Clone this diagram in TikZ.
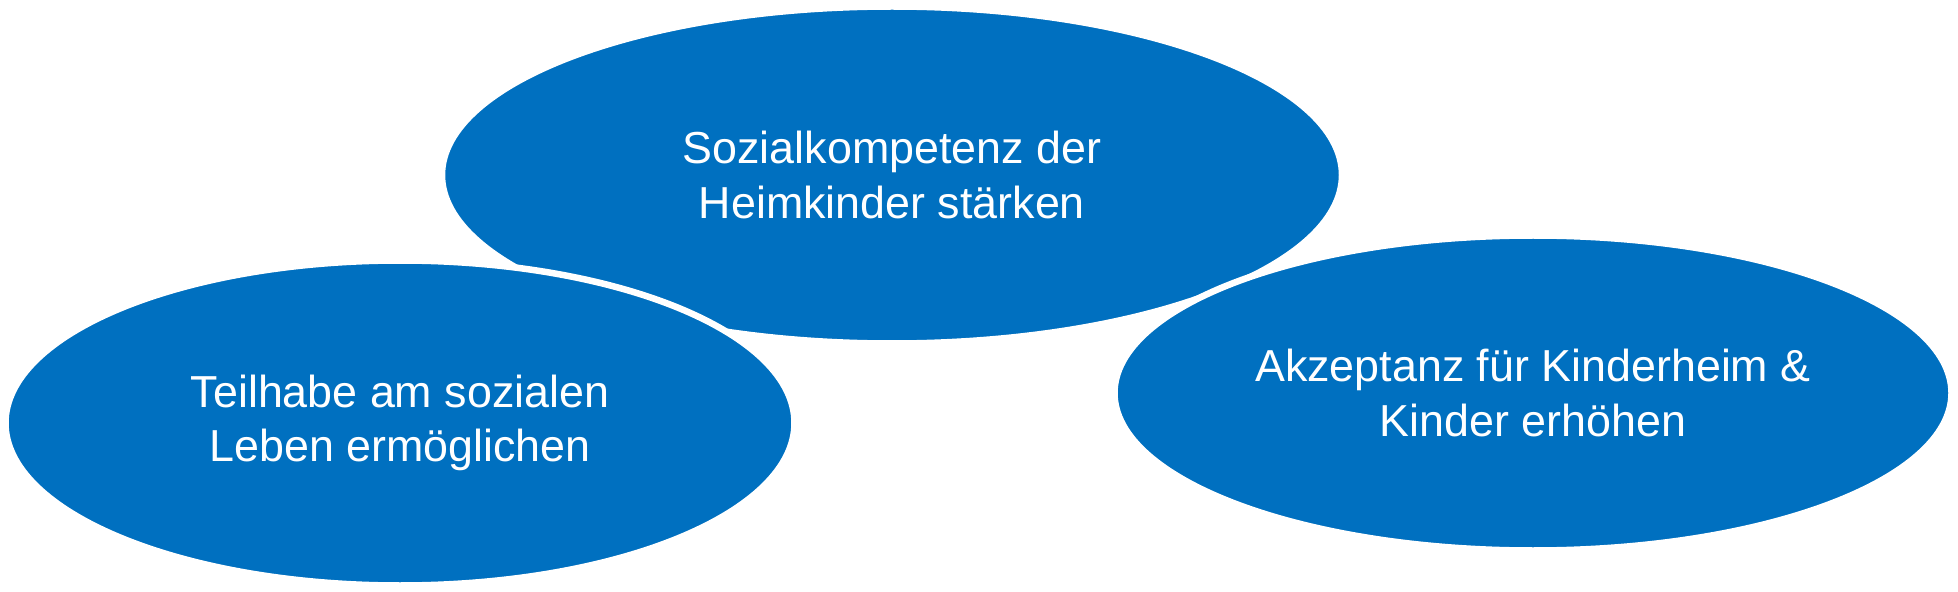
\documentclass[tikz,border=0pt]{standalone}
\usepackage{fontspec}
\setmainfont{Liberation Sans}
\usetikzlibrary{shapes.geometric}
\definecolor{bluefill}{HTML}{0070C0}
\tikzset{
  goal/.style={ellipse, fill=bluefill, draw=white, line width=0.13cm, inner sep=0pt,
    text=white, align=center, font=\fontsize{25.5}{30.8}\selectfont}
}
\begin{document}
\begin{tikzpicture}
\useasboundingbox (0,0) rectangle (39.16,-11.84);
\node[goal, minimum width=18.0cm, minimum height=6.74cm] (top) at (17.84,-3.50)
  {Sozialkompetenz der\\Heimkinder stärken};
\node[goal, minimum width=15.78cm, minimum height=6.50cm] (left) at (8.00,-8.46)
  {Teilhabe am sozialen\\Leben ermöglichen};
\node[goal, minimum width=16.74cm, minimum height=6.30cm] (right) at (30.66,-7.86)
  {Akzeptanz für Kinderheim \&\\Kinder erhöhen};
\end{tikzpicture}
\end{document}
